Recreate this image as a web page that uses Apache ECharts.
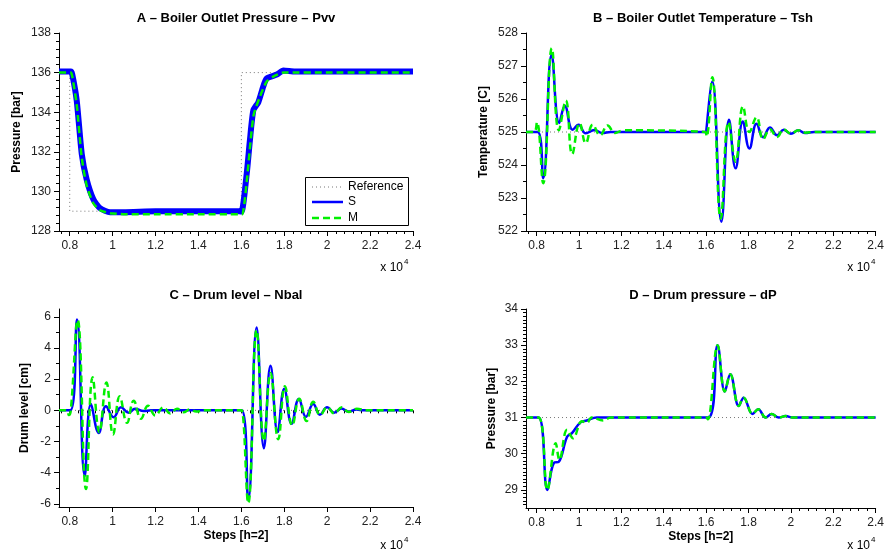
<!DOCTYPE html>
<html>
<head>
<meta charset="utf-8">
<script src="https://cdn.jsdelivr.net/npm/echarts@6/dist/echarts.min.js"></script>
<style>
	html, body { margin: 0; padding: 0; background: #fff; }
	#chartBox { width: 887px; height: 552px; }
</style>
</head>
<body>
<div id="chartBox"></div>
<script>
// ---- tick labels ----
var xTicks = [8000, 10000, 12000, 14000, 16000, 18000, 20000, 22000, 24000];
var yTicksA = [128, 130, 132, 134, 136, 138];
var yTicksB = [522, 523, 524, 525, 526, 527, 528];
var yTicksC = [-6, -4, -2, 0, 2, 4, 6];
var yTicksD = [29, 30, 31, 32, 33, 34];

// ---- A: Boiler Outlet Pressure ----
var aRefX = [7500, 8000, 8000, 16000, 16000, 24000];
var aRefY = [136, 136, 129, 129, 136, 136];
var aSX = [7500, 8050, 8120, 8325, 8560, 8790, 9100, 9410, 9880, 10500, 12000, 14000, 15900, 16010, 16250, 16400, 16560, 16790, 17020, 17180, 17650, 17960, 18500, 20000, 22000, 24000];
var aSY = [136.05, 136.05, 135.9, 134.6, 131.9, 130.6, 129.6, 129.15, 128.95, 128.95, 129.0, 129.0, 129.0, 128.98, 130.9, 132.6, 134.1, 134.5, 135.3, 135.7, 135.9, 136.1, 136.05, 136.05, 136.05, 136.05];
var aMX = [7500, 8050, 8120, 8325, 8560, 8790, 9100, 9410, 9880, 10500, 12000, 14000, 15950, 16050, 16250, 16560, 16870, 17180, 17490, 17960, 20000, 24000];
var aMY = [136.0, 136.0, 135.8, 134.4, 131.7, 130.3, 129.4, 129.05, 128.9, 128.85, 128.85, 128.85, 128.85, 128.85, 130.5, 133.8, 134.8, 135.55, 135.8, 136.0, 136.0, 136.0];

// ---- B: Boiler Outlet Temperature ----
var bRefX = [7500, 24000];
var bRefY = [525, 525];
var bSX = [7500, 8050, 8310, 8710, 9070, 9330, 9700, 9980, 10320, 10730, 11100, 11500, 16000, 16030, 16290, 16720, 17080, 17390, 17730, 18040, 18380, 18690, 19010, 19350, 19660, 20000, 20360, 20670, 21100, 24000];
var bSY = [525, 525, 523.6, 527.35, 525.27, 525.79, 525.07, 525.22, 524.96, 525.06, 524.97, 525, 525, 525, 526.53, 522.28, 525.37, 523.9, 525.32, 524.5, 525.25, 524.84, 525.14, 524.9, 525.07, 524.95, 525.05, 524.97, 525, 525];
var bMX = [7500, 7880, 8015, 8310, 8720, 9050, 9380, 9680, 10030, 10320, 10650, 11000, 11350, 11700, 12100, 15950, 16020, 16290, 16690, 17060, 17390, 17740, 18040, 18380, 18690, 19010, 19350, 19660, 20000, 20360, 20700, 21100, 24000];
var bMY = [525, 525, 525.3, 523.45, 527.54, 525.05, 525.95, 524.33, 525.27, 524.66, 525.22, 524.9, 525.2, 524.97, 525.05, 525, 524.86, 526.66, 522.38, 525.3, 524.1, 525.78, 525.0, 525.45, 524.78, 525.08, 524.85, 525.08, 524.95, 525.05, 524.98, 525, 525];

// ---- C: Drum level ----
var cRefX = [7500, 24000];
var cRefY = [0, 0];
var cSX = [7500, 8030, 8340, 8700, 8990, 9350, 9690, 10050, 10390, 10740, 11050, 11440, 11800, 16010, 16320, 16710, 17050, 17360, 17690, 18000, 18340, 18680, 19010, 19350, 19660, 20000, 20320, 20660, 21000, 21360, 21700, 24000];
var cSY = [0, 0, 5.83, -4.2, 0.41, -1.45, 0.27, -0.44, 0.2, -0.15, 0.1, -0.05, 0, 0, -5.75, 5.32, -2.43, 2.86, -1.39, 1.39, -0.86, 0.73, -0.42, 0.4, -0.28, 0.2, -0.15, 0.12, -0.08, 0.05, 0, 0];
var cMX = [7500, 7850, 7960, 8050, 8370, 8760, 9070, 9380, 9710, 10020, 10330, 10670, 10980, 11320, 11650, 11990, 12370, 12680, 13000, 13300, 13600, 13900, 14300, 15950, 16010, 16320, 16710, 17050, 17360, 17720, 18030, 18370, 18700, 19040, 19350, 19680, 20000, 20330, 20680, 21000, 21380, 21800, 24000];
var cMY = [0, 0, -0.3, 0, 5.8, -5.05, 2.13, -1.4, 1.78, -1.55, 0.9, -0.8, 0.62, -0.54, 0.3, -0.33, 0.2, -0.2, 0.1, -0.12, 0.05, -0.08, 0, 0, 0, -5.95, 5.15, -1.97, 2.4, -1.86, 1.54, -0.97, 0.75, -0.69, 0.55, -0.3, 0.2, -0.2, 0.2, -0.1, 0.1, 0, 0];

// ---- D: Drum pressure ----
var dRefX = [7500, 24000];
var dRefY = [31, 31];
var dSX = [7500, 8090, 8510, 8820, 9050, 9440, 9670, 10060, 10370, 10840, 11500, 16100, 16540, 16880, 17140, 17540, 17770, 18190, 18460, 18810, 19090, 19430, 19750, 20100, 24000];
var dSY = [31, 31, 29.0, 29.75, 29.78, 30.47, 30.57, 30.86, 30.92, 31.0, 31.0, 31.0, 33.0, 31.72, 32.2, 31.32, 31.55, 31.1, 31.23, 31.0, 31.1, 31.0, 31.04, 31.0, 31.0];
var dMX = [7500, 8090, 8510, 8900, 9080, 9440, 9720, 10140, 10370, 10600, 11140, 11500, 16000, 16080, 16540, 16880, 17140, 17540, 17770, 18190, 18460, 18810, 19090, 19430, 19750, 20100, 24000];
var dMY = [31, 31, 29.0, 30.29, 29.83, 30.66, 30.43, 30.9, 30.85, 31.0, 30.92, 31.0, 31.0, 30.95, 33.0, 31.72, 32.2, 31.32, 31.55, 31.1, 31.23, 31.0, 31.1, 31.0, 31.04, 31.0, 31.0];

var FONT = '"Liberation Sans", Arial, sans-serif';

var boiler = {
	// minor tick positions (no label)
	steps : function(from, to, step){
		var out = [];
		for (var v = from; v <= to + step / 1000; v += step) {
			out.push(Math.round(v * 1000) / 1000);
		}
		return out;
	},
	pairs : function(xs, ys){
		return xs.map(function(x, i){ return [x, ys[i]]; });
	},
	xAxisPair : function(g, name){
		var main = {
			type: 'value', gridIndex: g, position: 'bottom', min: 7500, max: 24000,
			name: name || '', nameLocation: 'middle', nameGap: 23,
			nameTextStyle: { fontFamily: FONT, fontWeight: 'bold', fontSize: 12, color: '#000' },
			axisLine: { onZero: false, lineStyle: { color: '#000', width: 1 } },
			axisTick: { customValues: xTicks, length: 5, lineStyle: { color: '#000' } },
			axisLabel: {
				customValues: xTicks, margin: 9, fontFamily: FONT, fontSize: 12, color: '#222',
				formatter: function(v){ return String(+(v / 10000).toFixed(1)); }
			},
			splitLine: { show: false }
		};
		var minor = {
			type: 'value', gridIndex: g, position: 'bottom', min: 7500, max: 24000,
			axisLine: { show: false },
			axisTick: { customValues: boiler.steps(7600, 24000, 400), length: 3, lineStyle: { color: '#000' } },
			axisLabel: { show: false, customValues: boiler.steps(7600, 24000, 400) },
			splitLine: { show: false }
		};
		return [main, minor];
	},
	yAxisPair : function(g, min, max, ticks, minorTicks, name, gap){
		var main = {
			type: 'value', gridIndex: g, position: 'left', min: min, max: max,
			name: name, nameLocation: 'middle', nameGap: gap,
			nameTextStyle: { fontFamily: FONT, fontWeight: 'bold', fontSize: 12, color: '#000' },
			axisLine: { onZero: false, lineStyle: { color: '#000', width: 1 } },
			axisTick: { customValues: ticks, length: 5, lineStyle: { color: '#000' } },
			axisLabel: { customValues: ticks, margin: 8, fontFamily: FONT, fontSize: 12, color: '#222' },
			splitLine: { show: false }
		};
		var minor = {
			type: 'value', gridIndex: g, position: 'left', min: min, max: max,
			axisLine: { show: false },
			axisTick: { customValues: minorTicks, length: 3, lineStyle: { color: '#000' } },
			axisLabel: { show: false, customValues: minorTicks },
			splitLine: { show: false }
		};
		return [main, minor];
	},
	lines : function(g, refX, refY, sX, sY, mX, mY, sWidth, smooth){
		return [
			{
				name: 'Reference', type: 'line', xAxisIndex: 2 * g, yAxisIndex: 2 * g,
				data: boiler.pairs(refX, refY), showSymbol: false, silent: true,
				lineStyle: { color: '#777', width: 1, type: [1, 3] }
			},
			{
				name: 'S', type: 'line', xAxisIndex: 2 * g, yAxisIndex: 2 * g,
				data: boiler.pairs(sX, sY), showSymbol: false, smooth: smooth, silent: true,
				lineStyle: { color: '#0000ff', width: sWidth }
			},
			{
				name: 'M', type: 'line', xAxisIndex: 2 * g, yAxisIndex: 2 * g,
				data: boiler.pairs(mX, mY), showSymbol: false, smooth: smooth, silent: true,
				lineStyle: { color: '#00f000', width: 2.5, type: [7, 4] }
			}
		];
	},
	txt : function(x, y, text, font, align){
		return {
			type: 'text', x: x, y: y, silent: true,
			style: { text: text, font: font, fill: '#000', align: align || 'center', verticalAlign: 'middle' }
		};
	},
	init : function(){
		var chart = echarts.init(document.getElementById('chartBox'), null, { renderer: 'canvas' });
		var titleFont = 'bold 13px ' + FONT;
		var smallFont = '12px ' + FONT;
		var xAxis = [].concat(
			boiler.xAxisPair(0), boiler.xAxisPair(1),
			boiler.xAxisPair(2, 'Steps [h=2]'), boiler.xAxisPair(3, 'Steps [h=2]')
		);
		var yAxis = [].concat(
			boiler.yAxisPair(0, 128, 138, yTicksA, boiler.steps(128, 138, 0.4), 'Pressure [bar]', 36),
			boiler.yAxisPair(1, 522, 528, yTicksB, boiler.steps(522, 528, 0.5), 'Temperature [C]', 36),
			boiler.yAxisPair(2, -6.2, 6.5, yTicksC, boiler.steps(-5, 5, 2), 'Drum level [cm]', 28),
			boiler.yAxisPair(3, 28.5, 34, yTicksD, boiler.steps(28.6, 34, 0.1), 'Pressure [bar]', 28)
		);
		var series = [].concat(
			boiler.lines(0, aRefX, aRefY, aSX, aSY, aMX, aMY, 6, 0.2),
			boiler.lines(1, bRefX, bRefY, bSX, bSY, bMX, bMY, 2.5, 0.45),
			boiler.lines(2, cRefX, cRefY, cSX, cSY, cMX, cMY, 2.5, 0.45),
			boiler.lines(3, dRefX, dRefY, dSX, dSY, dMX, dMY, 2.5, 0.4)
		);
		var graphic = [
			boiler.txt(236, 18, 'A \u2013 Boiler Outlet Pressure \u2013 Pvv', titleFont),
			boiler.txt(703, 18, 'B \u2013 Boiler Outlet Temperature \u2013 Tsh', titleFont),
			boiler.txt(236, 295, 'C \u2013 Drum level \u2013 Nbal', titleFont),
			boiler.txt(703, 295, 'D \u2013 Drum pressure \u2013 dP', titleFont),
			// x 10^4 exponents
			boiler.txt(403, 268, 'x 10', smallFont, 'right'),
			boiler.txt(404, 262, '4', '8px ' + FONT, 'left'),
			boiler.txt(870, 268, 'x 10', smallFont, 'right'),
			boiler.txt(871, 262, '4', '8px ' + FONT, 'left'),
			boiler.txt(403, 546, 'x 10', smallFont, 'right'),
			boiler.txt(404, 540, '4', '8px ' + FONT, 'left'),
			boiler.txt(870, 546, 'x 10', smallFont, 'right'),
			boiler.txt(871, 540, '4', '8px ' + FONT, 'left'),
			// legend of panel A
			{ type: 'rect', shape: { x: 305.5, y: 177.5, width: 103, height: 48 }, silent: true,
				style: { fill: '#fff', stroke: '#000', lineWidth: 1 } },
			{ type: 'line', shape: { x1: 312, y1: 187, x2: 343, y2: 187 }, silent: true,
				style: { stroke: '#777', lineWidth: 1, lineDash: [1, 3] } },
			{ type: 'line', shape: { x1: 312, y1: 202, x2: 343, y2: 202 }, silent: true,
				style: { stroke: '#0000ff', lineWidth: 2.5 } },
			{ type: 'line', shape: { x1: 312, y1: 218, x2: 343, y2: 218 }, silent: true,
				style: { stroke: '#00f000', lineWidth: 2.5, lineDash: [7, 4] } },
			boiler.txt(348, 187, 'Reference', smallFont, 'left'),
			boiler.txt(348, 202, 'S', smallFont, 'left'),
			boiler.txt(348, 218, 'M', smallFont, 'left')
		];
		var option = {
			animation: false,
			backgroundColor: '#fff',
			grid: [
				{ left: 59, top: 33, width: 354, height: 198 },
				{ left: 526, top: 33, width: 354, height: 198 },
				{ left: 59, top: 309, width: 354, height: 198 },
				{ left: 526, top: 309, width: 354, height: 199 }
			],
			xAxis: xAxis,
			yAxis: yAxis,
			series: series,
			graphic: graphic
		};
		chart.setOption(option);
	}
};

boiler.init();
</script>
</body>
</html>
